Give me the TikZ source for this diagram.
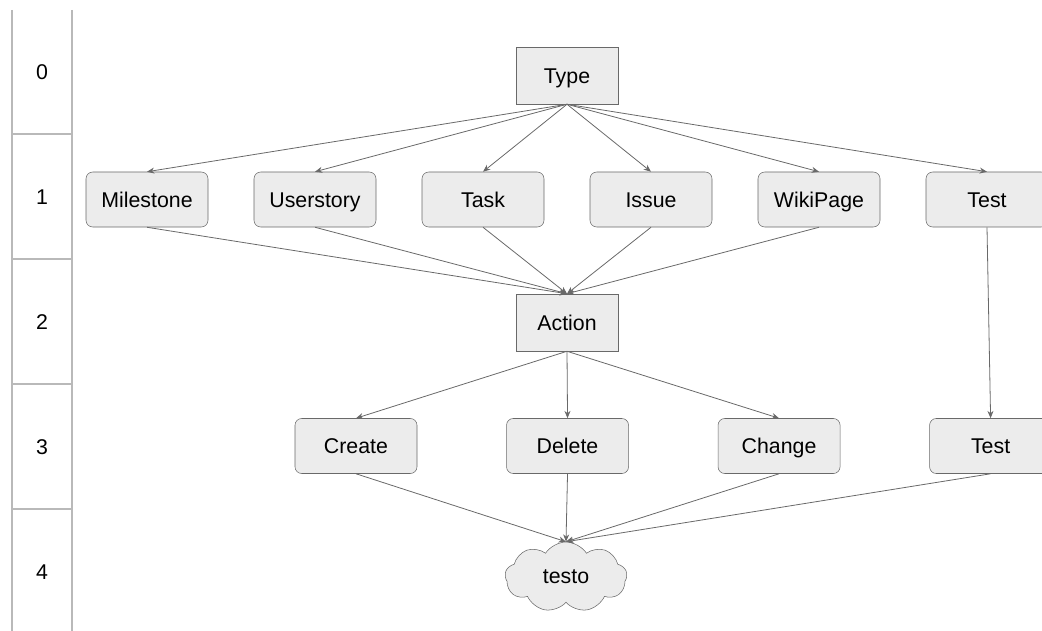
\documentclass[tikz,border=0pt]{standalone}
\usepackage{fontspec}
\setmainfont{Liberation Sans}
\usetikzlibrary{arrows.meta,positioning,shapes.symbols}
\definecolor{edge}{RGB}{105,105,105}
\definecolor{boxfill}{RGB}{236,236,236}
\definecolor{rule}{RGB}{185,185,185}
\tikzset{
  sqbox/.style={draw=edge,fill=boxfill,minimum width=76.5pt,minimum height=42.75pt,inner sep=0pt,text height=11.5pt,text depth=0pt,font=\fontsize{16}{19}\selectfont},
  rbox/.style={draw=edge,fill=boxfill,rounded corners=5pt,minimum width=91.5pt,minimum height=41.25pt,inner sep=0pt,text height=11.5pt,text depth=0pt,font=\fontsize{16}{19}\selectfont},
  puff/.style={cloud,cloud puffs=9,cloud puff arc=115,cloud ignores aspect,draw=edge,fill=boxfill,minimum width=91.5pt,minimum height=52.5pt,inner sep=0pt,font=\fontsize{16}{19}\selectfont},
  lvl/.style={font=\fontsize{16}{19}\selectfont},
  arr/.style={-{Stealth[length=5.5pt,width=4.5pt]},edge,line width=0.6pt},
}
\begin{document}
\begin{tikzpicture}[x=0.75pt,y=-0.75pt,node distance=34.1pt]
  \useasboundingbox (0,0) rectangle (1042,631);
  % level column
  \draw[rule,line width=0.8pt] (12,10) -- (12,631) (72,10) -- (72,631);
  \foreach \y in {134,259,384,509} \draw[rule,line width=0.8pt] (12,\y) -- (72,\y);
  \foreach \i in {0,...,4} \node[lvl] (lvl\i) at (42,{72+125*\i}) {\i};

  \node[sqbox] (type) at (567,75.5) {Type};
  \node[rbox] (mile) at (147,199.5) {Milestone};
  \node[rbox,right=of mile] (ustory) {Userstory};
  \node[rbox,right=of ustory] (task) {Task};
  \node[rbox,right=of task] (issue) {Issue};
  \node[rbox,right=of issue] (wiki) {WikiPage};
  \node[rbox,right=of wiki] (testa) {Test};
  \node[sqbox] (action) at (567,322.5) {Action};
  \node[rbox] (create) at (356,446) {Create};
  \node[rbox,right=66.75pt of create] (delete) {Delete};
  \node[rbox,right=66.75pt of delete] (change) {Change};
  \node[rbox,right=66.75pt of change] (testb) {Test};
  \node[puff] (testo) at (566,577) {testo};

  \foreach \n in {mile,ustory,task,issue,wiki,testa} \draw[arr] (type.south) -- (\n.north);
  \foreach \n in {mile,ustory,task,issue,wiki} \draw[arr] (\n.south) -- (action.north);
  \draw[arr] (testa.south) -- (testb.north);
  \foreach \n in {create,delete,change} \draw[arr] (action.south) -- (\n.north);
  \foreach \n in {create,delete,change,testb} \draw[arr] (\n.south) -- (testo.north);
\end{tikzpicture}
\end{document}
